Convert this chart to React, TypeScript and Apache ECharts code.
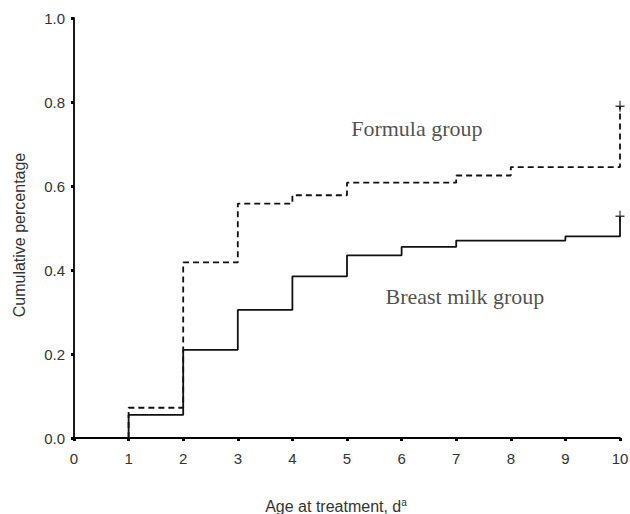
import React, { useEffect, useRef } from "react";
import * as echarts from "echarts";

const xTicks = [0, 1, 2, 3, 4, 5, 6, 7, 8, 9, 10];
const yTicks = [0, 0.2, 0.4, 0.6, 0.8, 1.0];

const breastX = [1, 1, 2, 3, 4, 5, 6, 7, 9, 10];
const breastY = [0, 0.055, 0.21, 0.305, 0.385, 0.435, 0.455, 0.47, 0.48, 0.528];

const formulaX = [1, 1, 2, 3, 4, 5, 7, 8, 10];
const formulaY = [0, 0.072, 0.418, 0.558, 0.578, 0.608, 0.625, 0.645, 0.79];

const censorX = [10, 10];
const censorY = [0.528, 0.79];

const labelFormula = { text: "Formula group", x: 6.28, y: 0.738 };
const labelBreast = { text: "Breast milk group", x: 7.16, y: 0.338 };

const plusPath = "path://M4.3,0 H5.7 V4.3 H10 V5.7 H5.7 V10 H4.3 V5.7 H0 V4.3 H4.3 Z";

export default function App() {
  const ref = useRef<HTMLDivElement>(null);
  useEffect(() => {
    if (!ref.current) return;
    const chart = echarts.init(ref.current, undefined, { renderer: "svg" });
    const sans = "Liberation Sans, Arial, sans-serif";
    chart.setOption({
      animation: false,
      backgroundColor: "#fff",
      grid: { left: 74, right: 10, top: 18, bottom: 76, containLabel: false, outerBoundsMode: "none" },
      xAxis: {
        type: "value",
        min: xTicks[0],
        max: xTicks[xTicks.length - 1],
        interval: 1,
        splitLine: { show: false },
        axisLine: { show: true, lineStyle: { color: "#000", width: 1.8 } },
        axisTick: { show: true, length: 3, lineStyle: { color: "#000", width: 3 } },
        axisLabel: { fontFamily: sans, fontSize: 15, color: "#333", margin: 13 },
        name: "Age at treatment, d{sup|a}",
        nameLocation: "middle",
        nameGap: 59,
        nameTextStyle: {
          fontFamily: sans,
          fontSize: 16,
          color: "#333",
          padding: [0, 22, 0, 0],
          rich: {
            sup: {
              fontFamily: sans,
              fontSize: 10,
              color: "#333",
              verticalAlign: "top",
              padding: [0, 0, 9, 0],
            },
          },
        },
      },
      yAxis: {
        type: "value",
        min: yTicks[0],
        max: yTicks[yTicks.length - 1],
        interval: 0.2,
        splitLine: { show: false },
        axisLine: { show: true, lineStyle: { color: "#000", width: 1.8 } },
        axisTick: { show: true, length: 3, lineStyle: { color: "#000", width: 3 } },
        axisLabel: {
          fontFamily: sans,
          fontSize: 15,
          color: "#333",
          margin: 9,
          formatter: (v: number) => v.toFixed(1),
        },
        name: "Cumulative percentage",
        nameLocation: "middle",
        nameGap: 47,
        nameTextStyle: {
          fontFamily: sans,
          fontSize: 16,
          color: "#333",
          padding: [0, 14, 0, 0],
        },
      },
      series: [
        {
          name: "Breast milk group",
          type: "line",
          step: "end",
          symbol: "none",
          data: breastX.map((x, i) => [x, breastY[i]]),
          lineStyle: { color: "#111", width: 1.8, type: "solid" },
          z: 3,
        },
        {
          name: "Formula group",
          type: "line",
          step: "end",
          symbol: "none",
          data: formulaX.map((x, i) => [x, formulaY[i]]),
          lineStyle: { color: "#111", width: 1.8, type: [6, 4] },
          z: 2,
        },
        {
          name: "Censored",
          type: "scatter",
          symbol: plusPath,
          symbolSize: [9, 11],
          itemStyle: { color: "#111" },
          data: censorX.map((x, i) => [x, censorY[i]]),
          z: 4,
        },
        {
          name: "Labels",
          type: "scatter",
          symbolSize: 0,
          silent: true,
          data: [
            { value: [labelFormula.x, labelFormula.y], name: labelFormula.text },
            { value: [labelBreast.x, labelBreast.y], name: labelBreast.text },
          ],
          label: {
            show: true,
            position: "inside",
            formatter: (p: any) => p.name,
            fontFamily: "Liberation Serif, Times New Roman, serif",
            fontSize: 22,
            color: "#222",
          },
        },
      ],
    });
    return () => chart.dispose();
  }, []);
  return (
    <div
      ref={ref}
      style={{ position: "fixed", left: 0, top: 0, width: 630, height: 514, background: "#fff" }}
    />
  );
}
